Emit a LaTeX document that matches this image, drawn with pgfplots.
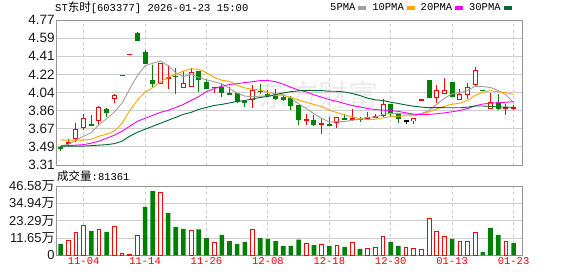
\documentclass[border=0pt]{standalone}
\usepackage{fontspec}
\setmainfont{Liberation Sans}
\setmonofont{Liberation Mono}
\newfontfamily\cjk{Noto Sans CJK SC}
\usepackage{pgfplots}
\pgfplotsset{compat=1.18}
\usepackage{pgfplotstable}

\definecolor{cRed}{RGB}{255,0,0}
\definecolor{cGreen}{RGB}{0,128,0}
\definecolor{maA}{RGB}{160,160,160}
\definecolor{maB}{RGB}{255,165,0}
\definecolor{maC}{RGB}{255,0,255}
\definecolor{maD}{RGB}{0,102,51}
\definecolor{gridc}{RGB}{206,206,206}
\definecolor{framec}{RGB}{150,150,150}

% candles: i open high low close
\pgfplotstableread{
i o h l c
1 3.52 3.57 3.51 3.54
2 3.57 3.73 3.54 3.67
3 3.68 3.82 3.66 3.78
5 3.75 3.90 3.70 3.89
7 3.97 4.02 3.93 4.01
8 4.21 4.22 4.21 4.22
9 4.42 4.43 4.42 4.43
13 4.13 4.34 4.13 4.34
14 4.18 4.32 4.08 4.20
16 4.09 4.26 4.09 4.14
17 4.10 4.29 4.10 4.25
20 4.09 4.10 4.04 4.10
25 3.96 4.12 3.88 4.07
32 3.76 3.82 3.71 3.77
34 3.72 3.78 3.62 3.73
36 3.73 3.79 3.68 3.79
38 3.77 3.87 3.75 3.78
40 3.78 3.84 3.76 3.79
41 3.79 3.82 3.78 3.80
42 3.80 3.97 3.79 3.92
46 3.75 3.78 3.72 3.78
47 3.96 3.97 3.96 3.97
49 3.98 4.12 3.93 4.07
50 4.02 4.19 4.02 4.07
52 3.96 4.08 3.96 4.02
53 4.01 4.14 3.97 4.10
54 4.12 4.30 4.11 4.27
56 3.87 4.04 3.87 3.94
58 3.88 3.92 3.81 3.89
59 3.88 3.91 3.86 3.89
}\redc

\pgfplotstableread{
i o h l c
0 3.49 3.50 3.45 3.48
4 3.72 3.81 3.71 3.71
6 3.87 3.88 3.79 3.83
10 4.64 4.65 4.56 4.56
11 4.45 4.47 4.33 4.33
12 4.17 4.32 4.10 4.13
15 4.21 4.29 4.02 4.20
18 4.26 4.26 4.05 4.17
19 4.15 4.18 4.08 4.08
21 4.10 4.13 3.99 4.03
22 4.03 4.10 4.02 4.02
23 4.03 4.03 3.93 3.94
24 3.95 3.95 3.89 3.93
26 4.06 4.13 4.02 4.05
27 4.02 4.07 4.00 4.01
28 4.00 4.08 3.96 3.97
29 3.99 4.01 3.95 3.96
30 3.98 4.00 3.86 3.90
31 3.91 3.91 3.71 3.76
33 3.76 3.81 3.70 3.71
35 3.72 3.79 3.70 3.70
37 3.78 3.82 3.76 3.77
39 3.78 3.79 3.74 3.77
43 3.92 3.92 3.79 3.82
44 3.82 3.82 3.73 3.77
48 4.17 4.17 3.98 3.98
51 4.15 4.15 3.99 3.99
55 4.07 4.07 4.06 4.06
57 3.94 4.02 3.86 3.87
}\greenc

\pgfplotstableread{
i o h l c
45 3.76 3.76 3.72 3.75
}\blackc

\pgfplotstableread{
i ma5 ma10 ma20 ma30
0 3.500 3.560 3.500 3.500
1 3.520 3.560 3.505 3.500
2 3.560 3.560 3.510 3.500
3 3.600 3.560 3.515 3.500
4 3.636 3.570 3.530 3.505
5 3.718 3.600 3.550 3.510
6 3.776 3.620 3.580 3.515
7 3.844 3.650 3.610 3.525
8 3.932 3.730 3.650 3.550
9 4.076 3.856 3.700 3.600
10 4.210 3.964 3.750 3.640
11 4.310 4.043 3.780 3.670
12 4.334 4.089 3.810 3.700
13 4.358 4.145 3.840 3.730
14 4.310 4.193 3.860 3.760
15 4.238 4.224 3.890 3.790
16 4.200 4.255 3.920 3.820
17 4.224 4.279 3.960 3.840
18 4.190 4.274 4.000 3.870
19 4.168 4.239 4.048 3.890
20 4.148 4.193 4.079 3.910
21 4.126 4.163 4.103 3.920
22 4.080 4.152 4.121 3.935
23 4.034 4.112 4.129 3.950
24 4.004 4.086 4.140 3.960
25 3.998 4.073 4.149 3.975
26 4.004 4.065 4.160 3.990
27 4.004 4.042 4.161 4.000
28 4.012 4.023 4.149 4.020
29 4.018 4.011 4.125 4.035
30 3.984 3.991 4.092 4.049
31 3.926 3.965 4.064 4.057
32 3.878 3.941 4.047 4.061
33 3.826 3.919 4.016 4.059
34 3.780 3.899 3.993 4.059
35 3.742 3.863 3.968 4.053
36 3.748 3.837 3.951 4.052
37 3.748 3.813 3.928 4.045
38 3.762 3.794 3.909 4.030
39 3.772 3.776 3.894 4.009
40 3.790 3.766 3.879 3.983
41 3.792 3.770 3.868 3.966
42 3.822 3.785 3.863 3.959
43 3.830 3.796 3.858 3.942
44 3.830 3.801 3.850 3.929
45 3.822 3.806 3.835 3.914
46 3.818 3.805 3.821 3.902
47 3.828 3.825 3.819 3.893
48 3.860 3.845 3.820 3.887
49 3.920 3.875 3.826 3.887
50 3.984 3.903 3.835 3.887
51 4.026 3.922 3.846 3.886
52 4.036 3.932 3.859 3.886
53 4.060 3.960 3.878 3.892
54 4.102 4.011 3.906 3.904
55 4.100 4.042 3.924 3.904
56 4.090 4.058 3.932 3.900
57 4.060 4.048 3.937 3.895
58 4.018 4.039 3.942 3.893
59 3.938 4.020 3.948 3.890
}\matab

\pgfplotstableread{
i v
1 10.3
2 15.5
3 20.2
5 17.5
7 19.5
8 1.3
9 0.9
10 13.4
13 42.3
17 16.8
20 8.7
25 17.5
32 8.1
34 7.6
36 6.9
38 8.7
40 4.7
41 5.6
42 12.8
45 5.4
46 4.7
47 3.6
48 24.9
49 16.3
50 12.8
52 9.4
53 9.0
54 15.5
58 9.4
}\volred

\pgfplotstableread{
i v
0 7.6
4 16.3
6 15.7
11 32.5
12 43.2
14 28.4
15 19.0
16 17.7
18 17.5
19 11.6
21 13.7
22 9.6
23 7.6
24 9.0
26 11.6
27 11.0
28 9.6
29 6.3
30 6.3
31 10.5
33 6.9
35 6.3
37 5.6
39 4.3
43 9.0
44 6.3
51 11.0
55 2.2
56 18.4
57 13.7
59 8.14
}\volgreen

\pgfplotsset{
  kax/.style={
    scale only axis, width=466pt,
    xmin=-0.6, xmax=60.1,
    axis line style={draw=framec, line width=1pt},
    major tick length=0pt,
    grid=major,
    x grid style={draw=gridc, line width=0.8pt, dash pattern=on 3pt off 3pt},
    y grid style={draw=gridc, line width=0.8pt},
    xtick={3,11,19,27,35,43,51,59},
    yticklabel style={font=\fontsize{13.5}{15}\selectfont, inner sep=1.2pt, text=black!90},
  },
  wick/.style={draw=none, mark=none, forget plot,
    error bars/.cd, y dir=both, y explicit, error mark=none,
    error bar style={line width=1pt, draw=#1, solid}},
  body/.style 2 args={draw=none, mark=none, forget plot,
    error bars/.cd, y dir=both, y explicit, error mark=none,
    error bar style={line width=#2, draw=#1, solid}},
}

\begin{document}
\begin{tikzpicture}
\path[use as bounding box] (0pt,0pt) rectangle (578pt,276pt);
\node[text=black!8, font=\cjk\fontsize{30}{30}\selectfont] at (318pt,181pt) {东方财富};
\node[anchor=west, inner sep=0pt, font=\ttfamily\fontsize{10.5}{12}\selectfont] at (55pt,268pt) {ST{\cjk\fontsize{11.5}{12}\selectfont 东时}[603377] 2026-01-23 15:00};
\node[anchor=west, inner sep=0pt, font=\ttfamily\fontsize{10.5}{12}\selectfont] at (57pt,100pt) {{\cjk\fontsize{11.5}{12}\selectfont 成交量}:81361};

% price panel
\begin{axis}[kax,
  at={(56pt,111pt)}, anchor=south west, height=145pt,
  ymin=3.31, ymax=4.77,
  ytick={3.31,3.4925,3.675,3.8575,4.04,4.2225,4.405,4.5875,4.77},
  yticklabels={3.31,3.49,3.67,3.86,4.04,4.22,4.41,4.59,4.77},
  xticklabels={},
  legend columns=4,
  legend plot pos=right,
  legend style={draw=none, fill=none, at={(0.978,1.083)}, anchor=east,
    font=\ttfamily\fontsize{10.5}{12}\selectfont, inner sep=0pt,
    nodes={inner sep=1pt},
    /tikz/every odd column/.append style={column sep=2pt},
    /tikz/every even column/.append style={column sep=5pt}},
  legend image code/.code={\fill[#1] (0pt,-1.4pt) rectangle (7pt,1.4pt);},
]
% wicks
\addplot[wick=cRed] table[x=i, y expr={(\thisrow{h}+\thisrow{l})/2}, y error expr={(\thisrow{h}-\thisrow{l})/2}] {\redc};
\addplot[wick=cGreen] table[x=i, y expr={(\thisrow{h}+\thisrow{l})/2}, y error expr={(\thisrow{h}-\thisrow{l})/2}] {\greenc};
\addplot[wick=black] table[x=i, y expr={(\thisrow{h}+\thisrow{l})/2}, y error expr={(\thisrow{h}-\thisrow{l})/2}] {\blackc};
% bodies
\addplot[body={cRed}{5pt}] table[x=i, y expr={(\thisrow{o}+\thisrow{c})/2}, y error expr={abs(\thisrow{c}-\thisrow{o})/2}] {\redc};
\addplot[body={white}{3pt}] table[x=i, y expr={(\thisrow{o}+\thisrow{c})/2}, y error expr={max(abs(\thisrow{c}-\thisrow{o})/2-0.0101,0)}] {\redc};
\addplot[body={cGreen}{5pt}] table[x=i, y expr={(\thisrow{o}+\thisrow{c})/2}, y error expr={abs(\thisrow{c}-\thisrow{o})/2}] {\greenc};
\addplot[body={black}{5pt}] table[x=i, y expr={(\thisrow{o}+\thisrow{c})/2}, y error expr={abs(\thisrow{c}-\thisrow{o})/2}] {\blackc};
% moving averages
\addplot[maA, line width=0.9pt, mark=none] table[x=i, y=ma5] {\matab};
\addlegendentry{5PMA}
\addplot[maB, line width=0.9pt, mark=none] table[x=i, y=ma10] {\matab};
\addlegendentry{10PMA}
\addplot[maC, line width=0.9pt, mark=none] table[x=i, y=ma20] {\matab};
\addlegendentry{20PMA}
\addplot[maD, line width=0.9pt, mark=none] table[x=i, y=ma30] {\matab};
\addlegendentry{30PMA}
\end{axis}

% volume panel
\begin{axis}[kax,
  at={(56pt,20.7pt)}, anchor=south west, height=69.3pt,
  ymin=0, ymax=46.58,
  ytick={0,11.645,23.29,34.935,46.58},
  yticklabels={0,11.65{\cjk 万},23.29{\cjk 万},34.94{\cjk 万},46.58{\cjk 万}},
  yticklabel style={font=\fontsize{13}{15}\selectfont},
  xticklabels={11-04,11-14,11-26,12-08,12-18,12-30,01-13,01-23},
  xticklabel style={text=cRed, font=\ttfamily\fontsize{10.5}{12}\selectfont, inner sep=2pt},
]
\addplot[ybar, bar width=4.6pt, bar shift=0pt, draw=none, fill=cGreen] table[x=i, y=v] {\volgreen};
\addplot[ybar, bar width=3.7pt, bar shift=0pt, draw=cRed, line width=0.9pt, fill=white] table[x=i, y=v] {\volred};
\end{axis}
\end{tikzpicture}
\end{document}
